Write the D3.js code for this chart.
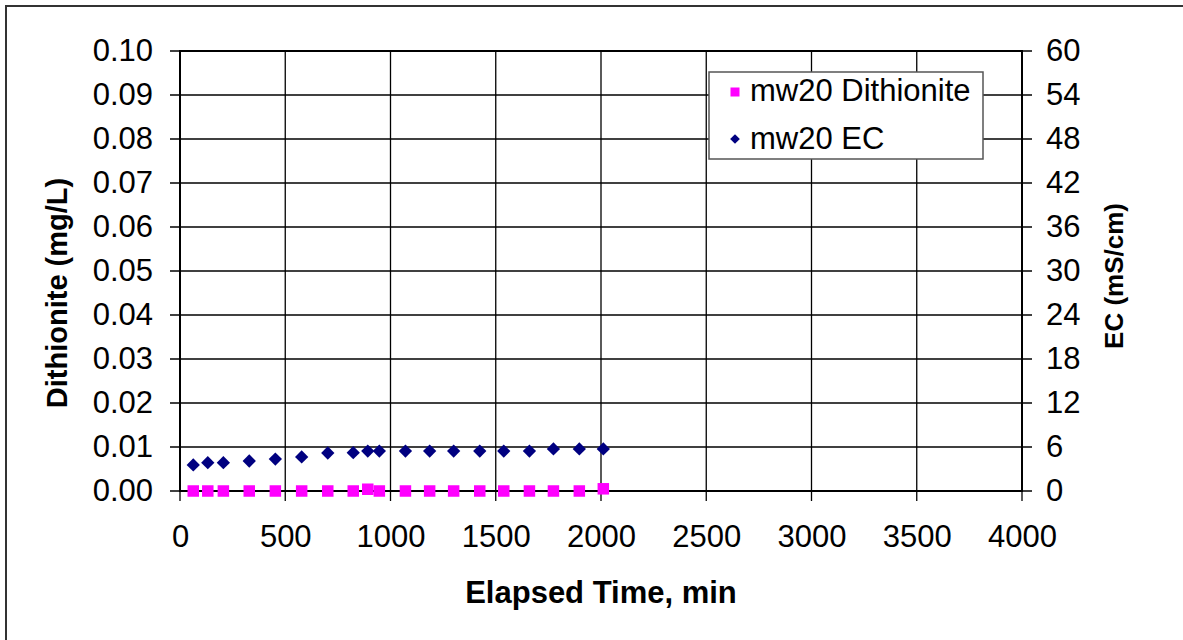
<!DOCTYPE html>
<html><head><meta charset="utf-8">
<script src="https://cdn.jsdelivr.net/npm/d3@7"></script>
<style>body{margin:0;background:#fff}svg{display:block}text{font-family:Arial,"Liberation Sans",sans-serif}</style>
</head><body>
<svg id="c" width="1183" height="640"></svg>
<script>
const times = [63,132,206,329,453,578,702,823,892,947,1071,1186,1300,1424,1538,1660,1774,1897,2011];
const dithionite = [0,0,0,0,0,0,0,0,0.0004,0,0,0,0,0,0,0,0,0,0.0005];
const ec = [3.55,3.86,3.86,4.09,4.36,4.64,5.18,5.22,5.45,5.45,5.45,5.45,5.45,5.45,5.45,5.45,5.73,5.73,5.73];
const xTicks = [0,500,1000,1500,2000,2500,3000,3500,4000];
const yLeftTicks = [0,0.01,0.02,0.03,0.04,0.05,0.06,0.07,0.08,0.09,0.10];
const yRightTicks = [0,6,12,18,24,30,36,42,48,54,60];
const seriesNames = ["mw20 Dithionite","mw20 EC"];

const svg = d3.select("#c");
const L=180,R=1022,T=51,B=491;
const FS=31;
svg.append("rect").attr("x",6).attr("y",6).attr("width",1300).attr("height",800)
  .attr("fill","#fff").attr("stroke","#333").attr("stroke-width",2);

const x = d3.scaleLinear().domain([0,4000]).range([L,R]);
const yl = d3.scaleLinear().domain([0,0.1]).range([B,T]);
const yr = d3.scaleLinear().domain([0,60]).range([B,T]);

// grid
const g = svg.append("g");
g.selectAll("line.v").data(xTicks).join("line").attr("x1",d=>x(d)).attr("x2",d=>x(d))
  .attr("y1",T).attr("y2",B+10).attr("stroke","#000").attr("stroke-width",1.3);
g.selectAll("line.h").data(yLeftTicks).join("line").attr("y1",d=>yl(d)).attr("y2",d=>yl(d))
  .attr("x1",L-10).attr("x2",R+10).attr("stroke","#000").attr("stroke-width",1.3);
svg.append("rect").attr("x",L).attr("y",T).attr("width",R-L).attr("height",B-T)
  .attr("fill","none").attr("stroke","#000").attr("stroke-width",2);

// axes via d3 axis, styled
const ax = svg.append("g").attr("transform",`translate(0,${B})`)
  .call(d3.axisBottom(x).tickValues(xTicks).tickFormat(d3.format("d")).tickSize(0).tickPadding(34));
const ayl = svg.append("g").attr("transform",`translate(${L},0)`)
  .call(d3.axisLeft(yl).tickValues(yLeftTicks).tickFormat(d3.format(".2f")).tickSize(0).tickPadding(27));
const ayr = svg.append("g").attr("transform",`translate(${R},0)`)
  .call(d3.axisRight(yr).tickValues(yRightTicks).tickFormat(d3.format("d")).tickSize(0).tickPadding(24));
[ax,ayl,ayr].forEach(a=>{a.select(".domain").remove();
  a.selectAll("text").attr("font-size",FS).attr("fill","#000").attr("font-family","Arial, 'Liberation Sans', sans-serif");});

// data
const sq=11.5, dm=15;
svg.append("g").selectAll("rect").data(times.map((t,i)=>[t,dithionite[i]])).join("rect")
  .attr("x",d=>x(d[0])-sq/2).attr("y",d=>yl(d[1])-sq/2).attr("width",sq).attr("height",sq).attr("fill","#ff00ff");
const diamond = d3.symbol().type(d3.symbolDiamond2).size(dm*dm/2);
svg.append("g").selectAll("path").data(times.map((t,i)=>[t,ec[i]])).join("path")
  .attr("d",diamond).attr("transform",d=>`translate(${x(d[0])},${yr(d[1])})`).attr("fill","#000080");

// titles
svg.append("text").attr("x",601).attr("y",603).attr("text-anchor","middle").attr("font-size",FS).attr("font-weight","bold").text("Elapsed Time, min");
svg.append("text").attr("transform","translate(67,293) rotate(-90)").attr("text-anchor","middle").attr("font-size",29).attr("font-weight","bold").text("Dithionite (mg/L)");
svg.append("text").attr("transform","translate(1123,276) rotate(-90)").attr("text-anchor","middle").attr("font-size",26).attr("font-weight","bold").text("EC (mS/cm)");

// legend
const lg = svg.append("g");
lg.append("rect").attr("x",709).attr("y",72).attr("width",274).attr("height",87).attr("fill","#fff").attr("stroke","#555").attr("stroke-width",1.5);
lg.append("rect").attr("x",730.5).attr("y",87.5).attr("width",9).attr("height",9).attr("fill","#ff00ff");
lg.append("path").attr("d",d3.symbol().type(d3.symbolDiamond2).size(60)).attr("transform","translate(735,139)").attr("fill","#000080");
lg.selectAll("text").data(seriesNames).join("text").attr("x",750).attr("y",(d,i)=>101+i*48)
  .attr("font-size",FS).text(d=>d);
</script>
</body></html>
